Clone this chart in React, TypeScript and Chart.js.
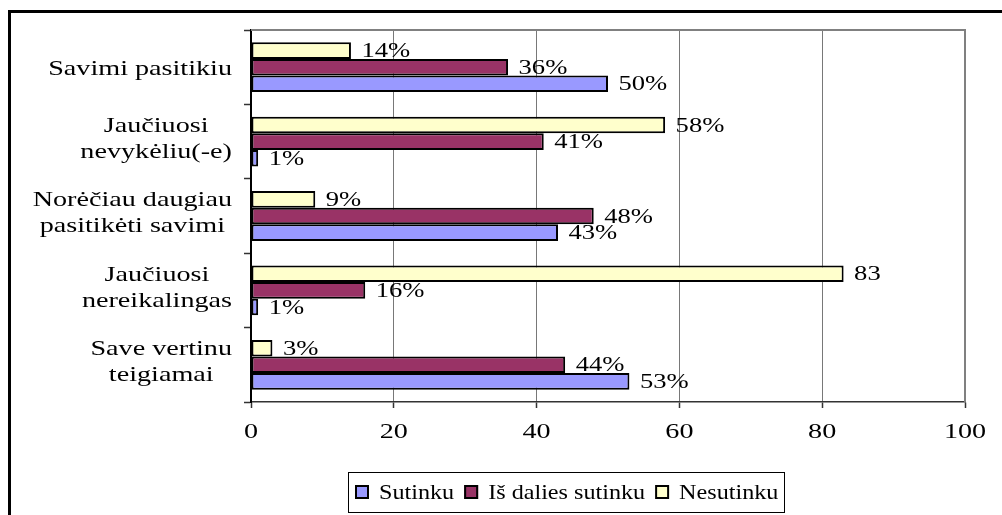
import React, { useEffect, useRef } from "react";
import { Chart, registerables } from "chart.js";

Chart.register(...registerables);

// ---- data ----
const categories: string[][] = [
  ["Savimi pasitikiu"],
  ["Jaučiuosi", "nevykėliu(-e)"],
  ["Norėčiau daugiau", "pasitikėti savimi"],
  ["Jaučiuosi", "nereikalingas"],
  ["Save vertinu", "teigiamai"],
];
const seriesNames = ["Sutinku", "Iš dalies sutinku", "Nesutinku"];
const sutinku = [50, 1, 43, 1, 53];
const isDalies = [36, 41, 48, 16, 44];
const nesutinku = [14, 58, 9, 83, 3];
const sutinkuLabels = ["50%", "1%", "43%", "1%", "53%"];
const isDaliesLabels = ["36%", "41%", "48%", "16%", "44%"];
const nesutinkuLabels = ["14%", "58%", "9%", "83", "3%"];
const xTicks = [0, 20, 40, 60, 80, 100];
const seriesColors = ["#9999FF", "#993366", "#FFFFCC"];

const FONT = '"Liberation Serif", "Times New Roman", serif';

function drawStretched(
  ctx: CanvasRenderingContext2D,
  text: string,
  x: number,
  y: number,
  size: number,
  sx: number,
  align: "left" | "center" | "right"
) {
  ctx.save();
  ctx.font = `${size}px ${FONT}`;
  const w = ctx.measureText(text).width * sx;
  const left = align === "left" ? x : align === "center" ? x - w / 2 : x - w;
  ctx.translate(left, y);
  ctx.scale(sx, 1);
  ctx.textAlign = "left";
  ctx.textBaseline = "alphabetic";
  ctx.fillStyle = "#000";
  ctx.fillText(text, 0, 0);
  ctx.restore();
  return w;
}

function measure(ctx: CanvasRenderingContext2D, text: string, size: number, sx: number) {
  ctx.save();
  ctx.font = `${size}px ${FONT}`;
  const w = ctx.measureText(text).width * sx;
  ctx.restore();
  return w;
}

const excelPlugin = {
  id: "excelLook",
  beforeDraw(chart: any) {
    const ctx = chart.ctx as CanvasRenderingContext2D;
    ctx.save();
    ctx.fillStyle = "#ffffff";
    ctx.fillRect(0, 0, chart.width, chart.height);
    ctx.restore();
  },
  afterDatasetsDraw(chart: any) {
    const ctx = chart.ctx as CanvasRenderingContext2D;
    const labelSets = [nesutinkuLabels, isDaliesLabels, sutinkuLabels];
    chart.data.datasets.forEach((_ds: any, di: number) => {
      const meta = chart.getDatasetMeta(di);
      meta.data.forEach((el: any, i: number) => {
        drawStretched(ctx, labelSets[di][i], el.x + 10.5, el.y + 6.6, 20, 1.33, "left");
      });
    });
  },
  afterDraw(chart: any) {
    const ctx = chart.ctx as CanvasRenderingContext2D;
    const area = chart.chartArea;
    const xs = chart.scales.x;
    const ys = chart.scales.y;

    // plot area top/right border
    ctx.save();
    ctx.strokeStyle = "#808080";
    ctx.lineWidth = 2;
    ctx.beginPath();
    ctx.moveTo(area.left, area.top);
    ctx.lineTo(area.right, area.top);
    ctx.lineTo(area.right, area.bottom);
    ctx.stroke();
    ctx.restore();

    // outer frame
    ctx.save();
    ctx.fillStyle = "#000";
    ctx.fillRect(8, 10, chart.width - 8, 3);
    ctx.fillRect(8, 10, 3, chart.height - 10);
    ctx.restore();

    // category labels
    categories.forEach((lines, i) => {
      const cy = ys.getPixelForValue(i);
      const size = 22;
      const sx = 1.28;
      const blockW = Math.max(...lines.map((l) => measure(ctx, l, size, sx)));
      const cx = 232 - blockW / 2;
      if (lines.length === 1) {
        drawStretched(ctx, lines[0], cx, cy + 7.3, size, sx, "center");
      } else {
        lines.forEach((l, k) => {
          drawStretched(ctx, l, cx, cy - 17 + k * 26 + 7.3, size, sx, "center");
        });
      }
    });

    // x tick labels
    xTicks.forEach((v) => {
      const x = xs.getPixelForValue(v);
      drawStretched(ctx, String(v), x, 437.5, 22, 1.28, "center");
    });

    // legend
    ctx.save();
    ctx.strokeStyle = "#000";
    ctx.lineWidth = 1;
    ctx.strokeRect(348.5, 472.5, 436, 40);
    ctx.restore();
    let lx = 355;
    seriesNames.forEach((name, i) => {
      ctx.save();
      ctx.fillStyle = seriesColors[i];
      ctx.fillRect(lx, 485, 14, 14);
      ctx.strokeStyle = "#000";
      ctx.lineWidth = 2;
      ctx.strokeRect(lx + 1, 486, 12, 12);
      ctx.restore();
      const w = drawStretched(ctx, name, lx + 24, 498.5, 21, 1.15, "left");
      lx += 24 + w + 10;
    });
  },
};

export default function App() {
  const canvasRef = useRef<HTMLCanvasElement | null>(null);

  useEffect(() => {
    const canvas = canvasRef.current;
    if (!canvas) return;
    const order = [2, 1, 0];
    const values = [sutinku, isDalies, nesutinku];
    const chart = new Chart(canvas, {
      type: "bar",
      data: {
        labels: categories.map((c) => c.join(" ")),
        datasets: order.map((si) => ({
          label: seriesNames[si],
          data: values[si],
          backgroundColor: seriesColors[si],
          borderColor: "#000000",
          borderWidth: 2,
          borderSkipped: false,
          categoryPercentage: 0.67,
          barPercentage: 1.0,
        })),
      },
      options: {
        indexAxis: "y",
        responsive: false,
        animation: false,
        devicePixelRatio: 1,
        layout: { padding: { top: 30, right: 37, left: 0, bottom: 0 }, autoPadding: false },
        plugins: {
          legend: { display: false },
          tooltip: { enabled: false },
        },
        scales: {
          x: {
            type: "linear",
            min: 0,
            max: 100,
            ticks: { stepSize: 20, display: false },
            grid: {
              color: (c: any) =>
                c.tick && (c.tick.value === 0 || c.tick.value === 100) ? "rgba(0,0,0,0)" : "#787878",
              lineWidth: 1,
              drawTicks: true,
              tickLength: 6,
              tickColor: "#333333",
              tickWidth: 1.5,
            },
            border: { display: true, color: "#333333", width: 1.5 },
            afterFit: (s: any) => {
              s.height = 113;
            },
          },
          y: {
            type: "category",
            offset: true,
            ticks: { display: false },
            grid: {
              offset: true,
              drawOnChartArea: false,
              drawTicks: true,
              tickLength: 7,
              tickColor: "#333333",
              tickWidth: 1.5,
            },
            border: { display: true, color: "#000000", width: 2 },
            afterFit: (s: any) => {
              s.width = 251;
            },
          },
        },
      } as any,
      plugins: [excelPlugin],
    });
    return () => chart.destroy();
  }, []);

  return (
    <div style={{ position: "fixed", left: 0, top: 0, width: 1002, height: 515, background: "#fff" }}>
      <canvas ref={canvasRef} width={1002} height={515} style={{ width: 1002, height: 515, display: "block" }} />
    </div>
  );
}
